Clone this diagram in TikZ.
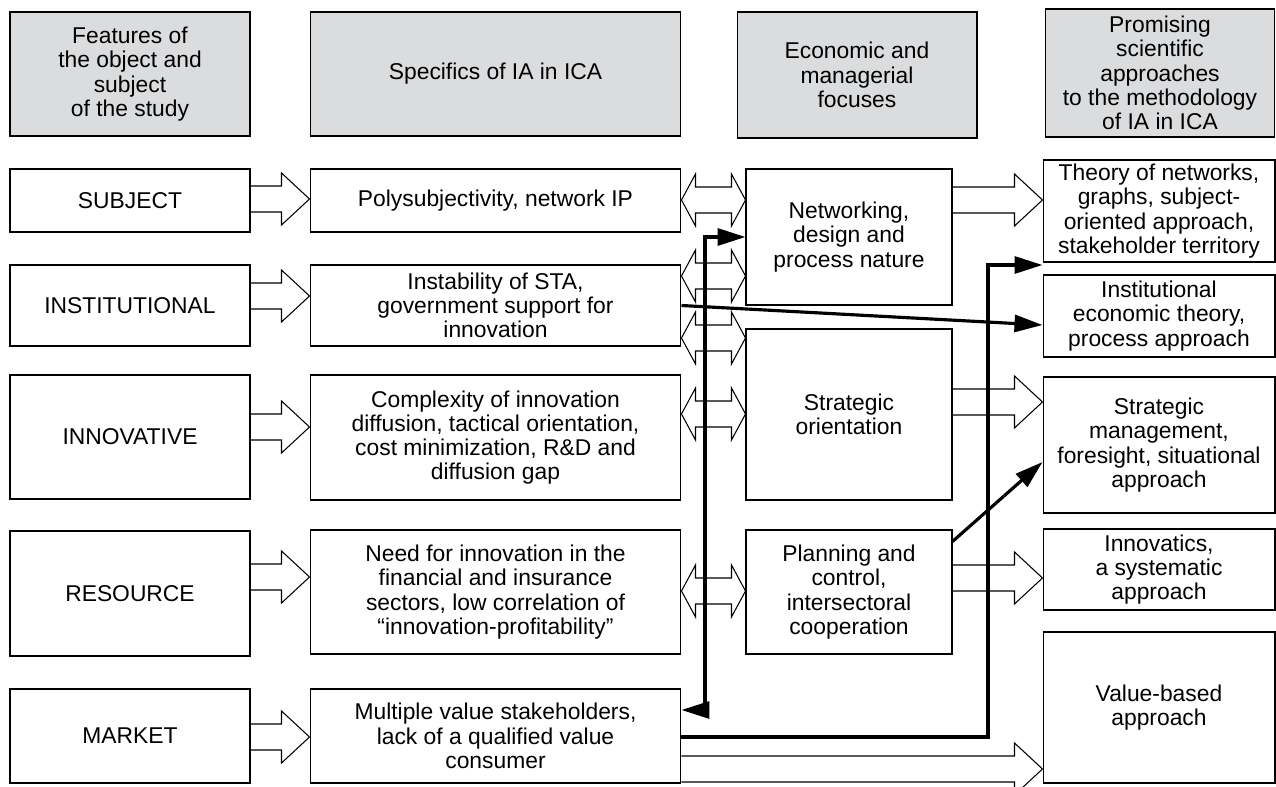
\documentclass[tikz,border=0pt]{standalone}
\usepackage{fontspec}
\setmainfont{Liberation Sans}
\usepackage{tikz}
\usetikzlibrary{arrows.meta,calc}

\definecolor{headgray}{RGB}{219,220,222}

\tikzset{
  box/.style={draw, line width=0.6pt, align=center, inner sep=1pt,
    font={\fontsize{13}{13.8}\selectfont}},
  head/.style={box, fill=headgray},
  feat/.style={box, minimum width=4.8cm},
  spec/.style={box, minimum width=7.42cm},
  focus/.style={box, minimum width=4.12cm},
  appr/.style={box, minimum width=4.64cm},
  hollow/.style={draw, line width=0.6pt, line join=miter},
  link/.style={line width=1.8pt, -{Triangle[length=0.56cm, width=0.34cm]}},
  dlink/.style={line width=1.8pt,
    {Triangle[length=0.56cm, width=0.34cm]}-{Triangle[length=0.56cm, width=0.34cm]}},
}

% hollow block arrow: east side of #1 -> west side of #2, at height #3
\newcommand{\blockarrow}[3]{%
  \draw[hollow] let \p1=(#1.east), \p2=(#2.west), \p3=(0,#3) in
    (\x1,\y3+0.26cm) -- (\x2-0.56cm,\y3+0.26cm) -- (\x2-0.56cm,\y3+0.52cm)
    -- (\x2,\y3) -- (\x2-0.56cm,\y3-0.52cm) -- (\x2-0.56cm,\y3-0.26cm)
    -- (\x1,\y3-0.26cm);}
% hollow two-way block arrow between #1 and #2, at height #3
\newcommand{\blockdarrow}[3]{%
  \draw[hollow] let \p1=(#1.east), \p2=(#2.west), \p3=(0,#3) in
    (\x1,\y3) -- (\x1+0.28cm,\y3+0.52cm) -- (\x1+0.28cm,\y3+0.26cm)
    -- (\x2-0.28cm,\y3+0.26cm) -- (\x2-0.28cm,\y3+0.52cm) -- (\x2,\y3)
    -- (\x2-0.28cm,\y3-0.52cm) -- (\x2-0.28cm,\y3-0.26cm)
    -- (\x1+0.28cm,\y3-0.26cm) -- (\x1+0.28cm,\y3-0.52cm) -- cycle;}

\begin{document}
\begin{tikzpicture}[x=0.02cm, y=-0.02cm, line cap=butt]
  \useasboundingbox (0,0) rectangle (1276,787);

  % Column headers
  \node[head, minimum width=4.8cm, minimum height=2.48cm] (hfeat) at (130,74)
    {Features of\\the object and\\subject\\of the study};
  \node[head, minimum width=7.42cm, minimum height=2.48cm] (hspec) at (495.5,74)
    {Specifics of IA in ICA};
  \node[head, minimum width=4.8cm, minimum height=2.52cm] (hfocus) at (857,75)
    {Economic and\\managerial\\focuses};
  \node[head, minimum width=4.58cm, minimum height=2.56cm] (happr) at (1160,73)
    {Promising\\scientific\\approaches\\to the methodology\\of IA in ICA};

  % Features
  \node[feat, minimum height=1.26cm] (subj) at (130,200.5) {SUBJECT};
  \node[feat, minimum height=1.62cm] (inst) at (130,305.5) {INSTITUTIONAL};
  \node[feat, minimum height=2.48cm] (innov) at (130,437) {INNOVATIVE};
  \node[feat, minimum height=2.5cm] (res) at (130,593.5) {RESOURCE};
  \node[feat, minimum height=1.88cm] (mark) at (130,736) {MARKET};

  % Specifics
  \node[spec, minimum height=1.26cm] (poly) at (495.5,200.5)
    {Polysubjectivity, network IP};
  \node[spec, minimum height=1.62cm] (instab) at (495.5,305.5)
    {Instability of STA,\\government support for\\innovation};
  \node[spec, minimum height=2.5cm] (compl) at (495.5,437.5)
    {Complexity of innovation\\diffusion, tactical orientation,\\cost minimization, R\&D and\\diffusion gap};
  \node[spec, minimum height=2.48cm] (need) at (495.5,592)
    {Need for innovation in the\\financial and insurance\\sectors, low correlation of\\“innovation-profitability”};
  \node[spec, minimum height=1.88cm] (multi) at (495.5,736)
    {Multiple value stakeholders,\\lack of a qualified value\\consumer};

  % Focuses
  \node[focus, minimum height=2.72cm] (netw) at (849,237)
    {Networking,\\design and\\process nature};
  \node[focus, minimum height=3.42cm] (strat) at (849,414.5)
    {Strategic\\orientation};
  \node[focus, minimum height=2.48cm] (plan) at (849,592)
    {Planning and\\control,\\intersectoral\\cooperation};

  % Approaches
  \node[appr, minimum height=2.04cm] (theory) at (1159,211)
    {Theory of networks,\\graphs, subject-\\oriented approach,\\stakeholder territory};
  \node[appr, minimum height=1.64cm] (instec) at (1159,316)
    {Institutional\\economic theory,\\process approach};
  \node[appr, minimum height=2.72cm] (stratm) at (1159,445)
    {Strategic\\management,\\foresight, situational\\approach};
  \node[appr, minimum height=1.62cm] (innovat) at (1159,569.5)
    {Innovatics,\\a systematic\\approach};
  \node[appr, minimum height=3.02cm] (value) at (1159,707.5)
    {Value-based\\approach};

  % Block arrows
  \blockarrow{subj}{poly}{199}
  \blockarrow{inst}{instab}{296}
  \blockarrow{innov}{compl}{427}
  \blockarrow{res}{need}{577}
  \blockarrow{mark}{multi}{737}

  \blockdarrow{poly}{netw}{200}
  \blockdarrow{instab}{netw}{276}
  \blockdarrow{instab}{strat}{338}
  \blockdarrow{compl}{strat}{414}
  \blockdarrow{need}{plan}{591}

  \blockarrow{netw}{theory}{200}
  \blockarrow{strat}{stratm}{402}
  \blockarrow{plan}{innovat}{578}
  \blockarrow{multi}{value}{769}

  % Thick links
  \coordinate (turnA) at (705,710);
  \coordinate (turnB) at (988,737);
  \coordinate (topB) at (988,265);
  \draw[dlink] (netw.west) -| (turnA) -- (turnA -| multi.east);
  \draw[link] (turnB -| multi.east) -- (turnB) -- (topB) -- (topB -| theory.west);
  \draw[link] (instab.east) -- ($(instec.west)+(0,9)$);
  \draw[link] ($(plan.north east)+(0,12)$) -- ($(stratm.west)+(0,17)$);
\end{tikzpicture}
\end{document}
